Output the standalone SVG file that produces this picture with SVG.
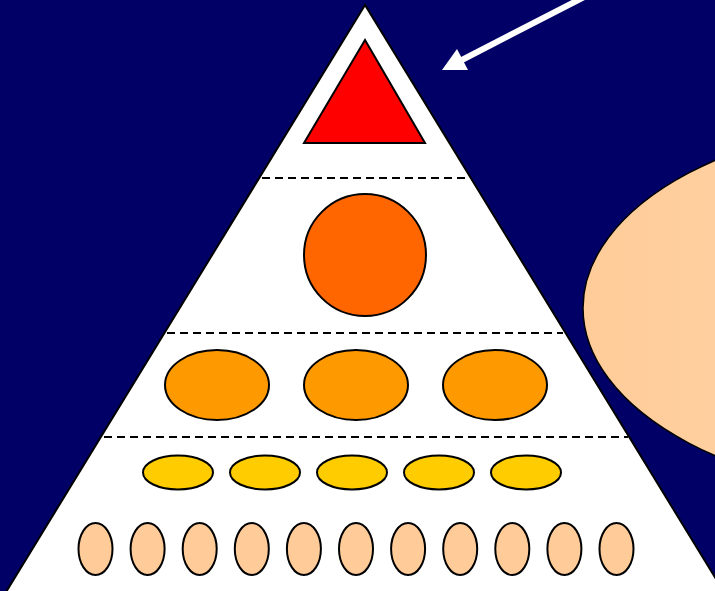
<svg xmlns="http://www.w3.org/2000/svg" width="715" height="591" viewBox="0 0 715 591">
<defs>
<style>
.o{stroke:#000;stroke-width:2}
.d{stroke:#000;stroke-width:2;stroke-dasharray:8 5;fill:none}
.peach{fill:#FFCC99}
.yel{fill:#FFCC00}
.org{fill:#FF9900}
</style>
<linearGradient id="g" x1="0" y1="0" x2="1" y2="0">
<stop offset="0" stop-color="#FFCC99"/>
<stop offset="1" stop-color="#FFDDB8"/>
</linearGradient>
</defs>
<rect width="715" height="591" fill="#000066"/>
<g id="pyramid">
<polygon class="o" fill="#fff" points="365,5 3,597 727,597"/>
</g>
<g id="dividers">
<line class="d" x1="262" y1="178" x2="468" y2="178"/>
<line class="d" x1="167" y1="333" x2="563" y2="333"/>
<line class="d" x1="104" y1="437" x2="628" y2="437"/>
</g>
<g id="top"><polygon class="o" fill="#FF0000" points="365,40 304,143 425,143"/></g>
<g id="circle"><circle class="o" fill="#FF6600" cx="365" cy="255" r="61"/></g>
<g id="tier3">
<ellipse class="o org" cx="217" cy="385" rx="52" ry="35"/>
<ellipse class="o org" cx="356" cy="385" rx="52" ry="35"/>
<ellipse class="o org" cx="495" cy="385" rx="52" ry="35"/>
</g>
<g id="tier4">
<ellipse class="o yel" cx="178" cy="472.5" rx="35" ry="17"/>
<ellipse class="o yel" cx="265" cy="472.5" rx="35" ry="17"/>
<ellipse class="o yel" cx="352" cy="472.5" rx="35" ry="17"/>
<ellipse class="o yel" cx="439" cy="472.5" rx="35" ry="17"/>
<ellipse class="o yel" cx="526" cy="472.5" rx="35" ry="17"/>
</g>
<g id="tier5">
<ellipse class="o peach" cx="95.5" cy="549" rx="17" ry="26"/>
<ellipse class="o peach" cx="147.6" cy="549" rx="17" ry="26"/>
<ellipse class="o peach" cx="199.7" cy="549" rx="17" ry="26"/>
<ellipse class="o peach" cx="251.8" cy="549" rx="17" ry="26"/>
<ellipse class="o peach" cx="303.9" cy="549" rx="17" ry="26"/>
<ellipse class="o peach" cx="356" cy="549" rx="17" ry="26"/>
<ellipse class="o peach" cx="408.1" cy="549" rx="17" ry="26"/>
<ellipse class="o peach" cx="460.2" cy="549" rx="17" ry="26"/>
<ellipse class="o peach" cx="512.3" cy="549" rx="17" ry="26"/>
<ellipse class="o peach" cx="564.4" cy="549" rx="17" ry="26"/>
<ellipse class="o peach" cx="616.5" cy="549" rx="17" ry="26"/>
</g>
<g id="bubble"><ellipse cx="944" cy="308" rx="361" ry="191" fill="url(#g)" stroke="#000" stroke-width="1.5"/></g>
<g id="connectors">
<line x1="590" y1="-6" x2="458" y2="62" stroke="#fff" stroke-width="6"/>
<polygon fill="#fff" points="442,70 457,49 468,70"/>
</g>
</svg>
